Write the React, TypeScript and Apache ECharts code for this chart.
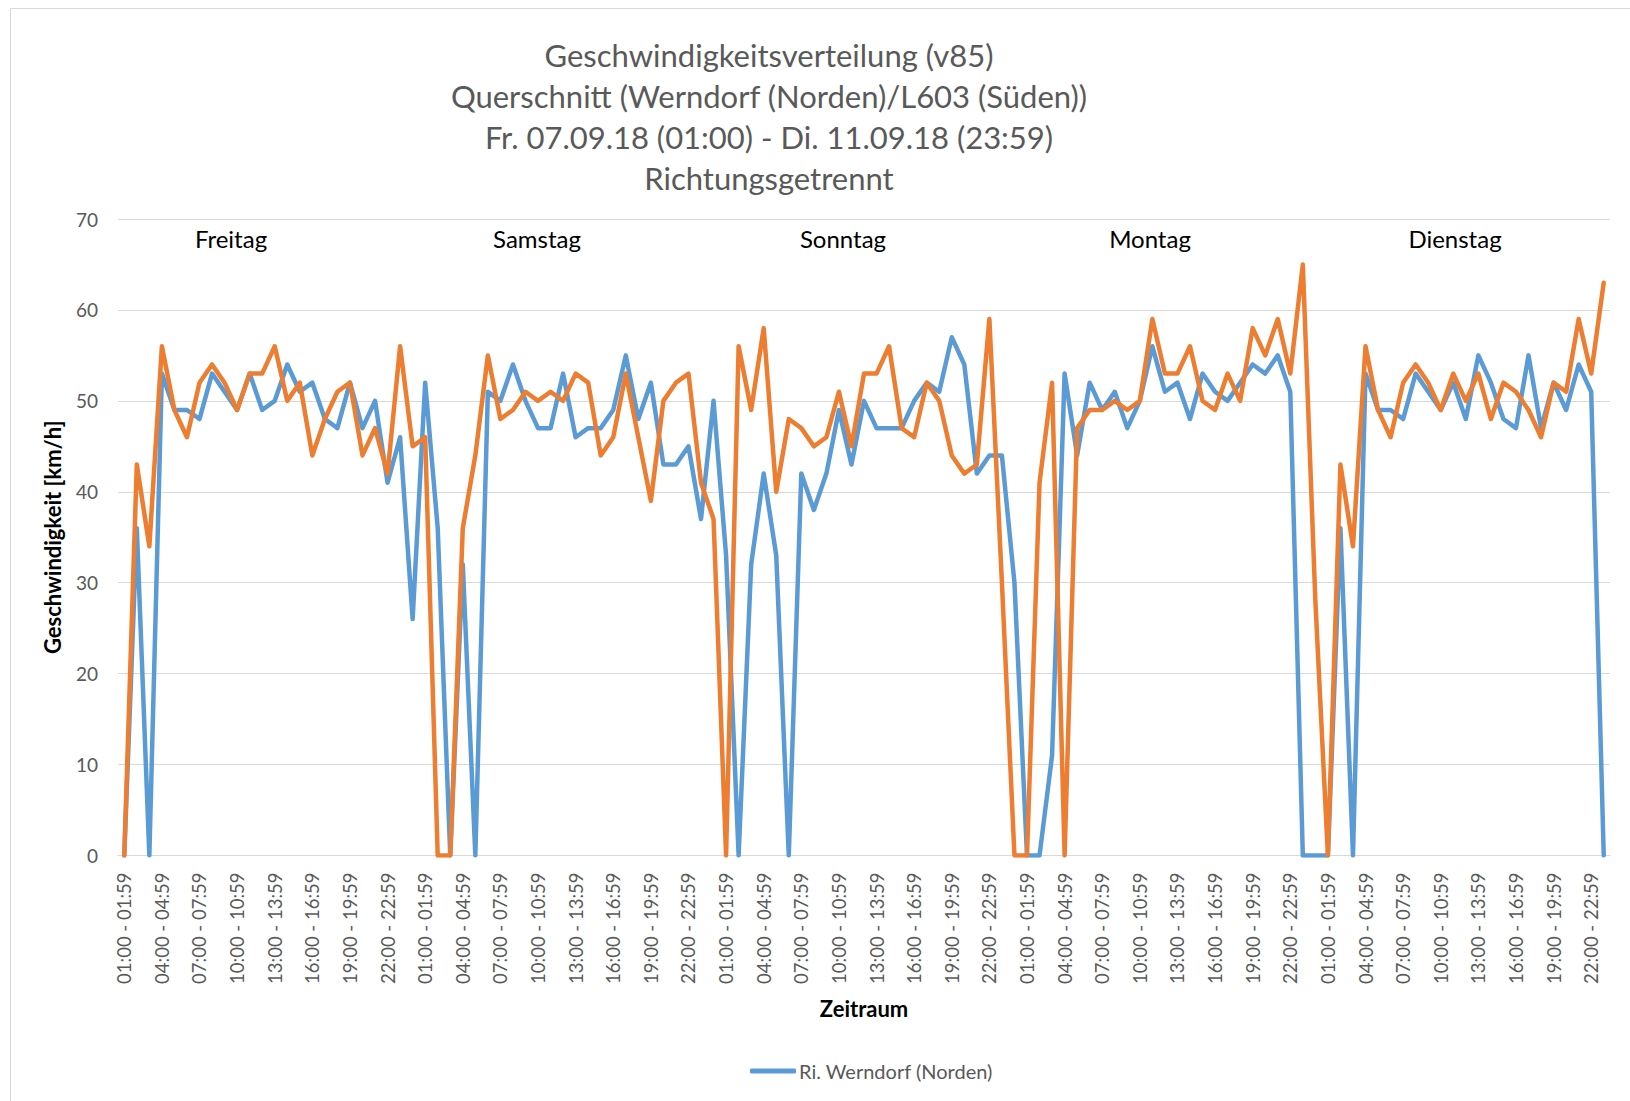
import React, { useEffect, useRef } from "react";
import * as echarts from "echarts";

const TITLE_LINES = [
  "Geschwindigkeitsverteilung (v85)",
  "Querschnitt (Werndorf (Norden)/L603 (Süden))",
  "Fr. 07.09.18 (01:00) - Di. 11.09.18 (23:59)",
  "Richtungsgetrennt",
];

const DAY_NAMES = ["Freitag", "Samstag", "Sonntag", "Montag", "Dienstag"];
const FIRST_DAY_HOURS = [1, 2, 3, 4, 5, 6, 7, 8, 9, 10, 11, 12, 13, 14, 15, 16, 17, 18, 19, 20, 21, 22, 23];
const FULL_DAY_HOURS = [0, 1, 2, 3, 4, 5, 6, 7, 8, 9, 10, 11, 12, 13, 14, 15, 16, 17, 18, 19, 20, 21, 22, 23];

const pad = (h: number) => (h < 10 ? "0" + h : "" + h);
const categories: string[] = [];
[FIRST_DAY_HOURS, FULL_DAY_HOURS, FULL_DAY_HOURS, FULL_DAY_HOURS, FULL_DAY_HOURS].forEach((hrs) =>
  hrs.forEach((h) => categories.push(`${pad(h)}:00 - ${pad(h)}:59`))
);

const SERIES_NORD_NAME = "Ri. Werndorf (Norden)";
const SERIES_SUED_NAME = "Ri. L603 (Süden)";

// Ri. Werndorf (Norden) – blue
const nordValues = [
  0, 36, 0, 53, 49, 49, 48, 53, 51, 49, 53, 49, 50, 54, 51, 52, 48, 47, 52, 47, 50, 41, 46,
  26, 52, 36, 0, 32, 0, 51, 50, 54, 50, 47, 47, 53, 46, 47, 47, 49, 55, 48, 52, 43, 43, 45, 37,
  50, 33, 0, 32, 42, 33, 0, 42, 38, 42, 49, 43, 50, 47, 47, 47, 50, 52, 51, 57, 54, 42, 44, 44,
  30, 0, 0, 11, 53, 44, 52, 49, 51, 47, 50, 56, 51, 52, 48, 53, 51, 50, 52, 54, 53, 55, 51, 0,
  0, 0, 36, 0, 53, 49, 49, 48, 53, 51, 49, 52, 48, 55, 52, 48, 47, 55, 47, 52, 49, 54, 51, 0,
];

// Ri. L603 (Süden) – orange
const suedValues = [
  0, 43, 34, 56, 49, 46, 52, 54, 52, 49, 53, 53, 56, 50, 52, 44, 48, 51, 52, 44, 47, 42, 56,
  45, 46, 0, 0, 36, 44, 55, 48, 49, 51, 50, 51, 50, 53, 52, 44, 46, 53, 46, 39, 50, 52, 53, 41,
  37, 0, 56, 49, 58, 40, 48, 47, 45, 46, 51, 45, 53, 53, 56, 47, 46, 52, 50, 44, 42, 43, 59, 30,
  0, 0, 41, 52, 0, 47, 49, 49, 50, 49, 50, 59, 53, 53, 56, 50, 49, 53, 50, 58, 55, 59, 53, 65,
  28, 0, 43, 34, 56, 49, 46, 52, 54, 52, 49, 53, 50, 53, 48, 52, 51, 49, 46, 52, 51, 59, 53, 63,
];

const Y_TICKS = [0, 10, 20, 30, 40, 50, 60, 70];

const FONT = "Lato, 'Open Sans', sans-serif";
const GRAY = "#595959";

export default function App() {
  const ref = useRef<HTMLDivElement>(null);

  useEffect(() => {
    if (!ref.current) return;
    const chart = echarts.init(ref.current, undefined, { renderer: "svg" });

    const dayX = [231, 537, 843, 1150, 1455];
    const graphics: any[] = [
      {
        type: "rect",
        silent: true,
        shape: { x: 10.5, y: 8.5, width: 1660, height: 1200 },
        style: { fill: "none", stroke: "#D9D9D9", lineWidth: 1 },
      },
    ];
    TITLE_LINES.forEach((t, i) => {
      graphics.push({
        type: "text",
        x: 769,
        y: 55 + i * 41,
        style: {
          text: t,
          fill: GRAY,
          font: `31px ${FONT}`,
          textAlign: "center",
          textVerticalAlign: "middle",
        },
      });
    });
    DAY_NAMES.forEach((d, i) => {
      graphics.push({
        type: "text",
        x: dayX[i],
        y: 238,
        style: {
          text: d,
          fill: "#000000",
          font: `24px ${FONT}`,
          textAlign: "center",
          textVerticalAlign: "middle",
        },
      });
    });

    chart.setOption({
      animation: false,
      backgroundColor: "#ffffff",
      graphic: graphics,
      grid: { left: 118, right: 20, top: 219, bottom: 245.5, containLabel: false },
      legend: {
        data: [SERIES_NORD_NAME],
        left: 745,
        top: 1056,
        itemWidth: 46,
        itemHeight: 5,
        itemGap: 4,
        icon: "roundRect",
        textStyle: { color: GRAY, fontSize: 20, fontFamily: FONT, padding: [0, 0, 0, -2] },
      },
      xAxis: {
        type: "category",
        data: categories,
        boundaryGap: true,
        name: "Zeitraum",
        nameLocation: "middle",
        nameGap: 142,
        nameTextStyle: { color: "#000", fontSize: 22, fontWeight: "bold", fontFamily: FONT },
        axisLine: { show: true, lineStyle: { color: "#D9D9D9", width: 1 } },
        axisTick: { show: false },
        axisLabel: {
          interval: 2,
          rotate: 90,
          color: GRAY,
          fontSize: 18.5,
          fontFamily: FONT,
          margin: 17,
        },
        splitLine: { show: false },
      },
      yAxis: {
        type: "value",
        min: Y_TICKS[0],
        max: Y_TICKS[Y_TICKS.length - 1],
        interval: 10,
        name: "Geschwindigkeit [km/h]",
        nameLocation: "middle",
        nameGap: 55,
        nameTextStyle: { color: "#000", fontSize: 22, fontWeight: "bold", fontFamily: FONT },
        axisLine: { show: false },
        axisTick: { show: false },
        axisLabel: { color: GRAY, fontSize: 19, fontFamily: FONT, margin: 20 },
        splitLine: { lineStyle: { color: "#D9D9D9", width: 1 } },
      },
      series: [
        {
          name: SERIES_NORD_NAME,
          type: "line",
          data: nordValues,
          symbol: "none",
          lineStyle: { color: "#5B9BD5", width: 4.5, cap: "round", join: "round" },
          itemStyle: { color: "#5B9BD5" },
        },
        {
          name: SERIES_SUED_NAME,
          type: "line",
          data: suedValues,
          symbol: "none",
          lineStyle: { color: "#ED7D31", width: 4.5, cap: "round", join: "round" },
          itemStyle: { color: "#ED7D31" },
        },
      ],
    });

    return () => chart.dispose();
  }, []);

  return (
    <div
      ref={ref}
      style={{ position: "fixed", left: 0, top: 0, width: 1630, height: 1101 }}
    />
  );
}
